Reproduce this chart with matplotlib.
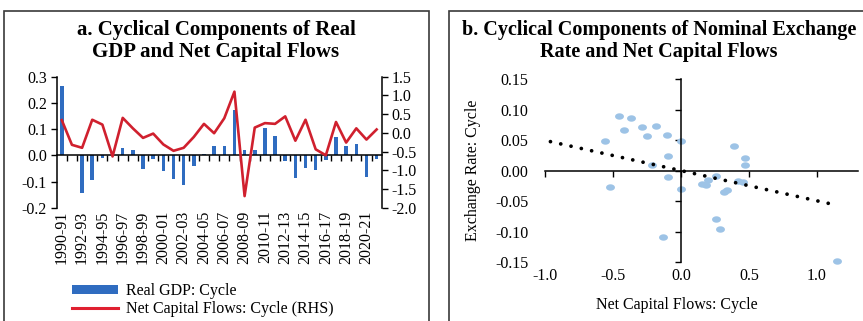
import numpy as np
import matplotlib
matplotlib.use("Agg")
import matplotlib.pyplot as plt
from matplotlib.patches import Rectangle
from matplotlib.path import Path
from matplotlib.lines import Line2D
from matplotlib.patches import Patch

plt.rcParams['font.family'] = ['Liberation Serif', 'DejaVu Serif']
plt.rcParams['axes.unicode_minus'] = False

# ---------------- data ----------------
periods = ["1990-91", "1991-92", "1992-93", "1993-94", "1994-95", "1995-96", "1996-97", "1997-98",
           "1998-99", "1999-00", "2000-01", "2001-02", "2002-03", "2003-04", "2004-05", "2005-06",
           "2006-07", "2007-08", "2008-09", "2009-10", "2010-11", "2011-12", "2012-13", "2013-14",
           "2014-15", "2015-16", "2016-17", "2017-18", "2018-19", "2019-20", "2020-21", "2021-22"]
real_gdp_cycle = [0.266, 0.001, -0.142, -0.093, -0.011, 0.0, 0.029, 0.021,
                  -0.053, -0.016, -0.059, -0.092, -0.114, -0.039, 0.004, 0.034,
                  0.034, 0.171, 0.019, 0.020, 0.105, 0.075, -0.023, -0.087,
                  -0.048, -0.056, -0.019, 0.069, 0.034, 0.044, -0.082, -0.014]
net_cap_flows_cycle = [0.34, -0.32, -0.40, 0.35, 0.22, -0.63, 0.40, 0.12,
                       -0.135, -0.02, -0.31, -0.48, -0.40, -0.11, 0.24, -0.01,
                       0.39, 1.10, -1.69, 0.14, 0.26, 0.24, 0.44, -0.21,
                       0.35, -0.44, -0.60, 0.29, -0.26, 0.12, -0.18, 0.09]
left_ticks = [-0.2, -0.1, 0.0, 0.1, 0.2, 0.3]
right_ticks = [-2.0, -1.5, -1.0, -0.5, 0.0, 0.5, 1.0, 1.5]

scatter_ncf = [-0.561, -0.456, -0.368, -0.417, -0.287, -0.184, -0.252, -0.103, 0.0, -0.093,
               -0.211, -0.096, 0.0, -0.525, 0.390, 0.468, 0.471, 0.257, 0.196, 0.157,
               0.181, 0.419, 0.458, 0.316, 0.338, 0.260, 0.284, -0.130, 1.147]
scatter_er = [0.049, 0.090, 0.087, 0.067, 0.071, 0.073, 0.057, 0.058, 0.049, 0.024,
              0.010, -0.0098, -0.030, -0.027, 0.041, 0.021, 0.0093, -0.0082, -0.0153, -0.0224,
              -0.024, -0.017, -0.019, -0.035, -0.032, -0.079, -0.095, -0.109, -0.148]
# linear trend as shown in the chart
trend_range = [-0.96, 1.15]
trend_slope = -0.0495
trend_intercept = 0.0003
b_xticks = [-1.0, -0.5, 0.0, 0.5, 1.0]
b_yticks = [-0.15, -0.10, -0.05, 0.0, 0.05, 0.10, 0.15]

# ---------------- figure ----------------
W, H = 863, 321
fig = plt.figure(figsize=(W / 100, H / 100), dpi=100)

def fx(px):
    return px / W

def fy(py):
    return 1 - py / H

# panel boxes
box_col = '#3a3a3a'
fig.add_artist(Rectangle((fx(4), -0.1), fx(425), fy(11) + 0.1, transform=fig.transFigure,
                         fill=False, edgecolor=box_col, linewidth=1.2))
fig.add_artist(Rectangle((fx(449), -0.1), fx(440), fy(11) + 0.1, transform=fig.transFigure,
                         fill=False, edgecolor=box_col, linewidth=1.2))

# titles
fig.text(fx(216), fy(41), "a. Cyclical Components of Real\nGDP and Net Capital Flows",
         ha='center', va='center', fontsize=15, fontweight='bold', linespacing=1.15)
fig.text(fx(659), fy(41), "b. Cyclical Components of Nominal Exchange\nRate and Net Capital Flows",
         ha='center', va='center', fontsize=14.5, fontweight='bold', linespacing=1.19)

tick_fs = 11.5
bar_col = '#2f6cc0'
red_col = '#d0202e'

# ---------------- panel a ----------------
axa = fig.add_axes([fx(56.7), fy(207.7), fx(381.7 - 56.7), fy(76.7) - fy(207.7)])
idx = np.arange(len(periods))
axa.bar(idx, real_gdp_cycle, width=0.35, color=bar_col, zorder=2)
axa.set_xlim(-0.5, len(periods) - 0.5)
axa.set_ylim(left_ticks[0], left_ticks[-1])
axa.set_yticks(left_ticks)
axa.set_yticklabels([f"{v:.1f}" for v in left_ticks])
axa.tick_params(axis='y', direction='out', length=4, width=1, labelsize=tick_fs, pad=3)
axa.spines['top'].set_visible(False)
axa.spines['right'].set_visible(False)
axa.spines['bottom'].set_position(('data', 0))
axa.set_xticks(idx[:-1] + 0.5)
axa.set_xticklabels([])
axa.tick_params(axis='x', direction='out', length=4, width=1)
for s in ['left', 'bottom']:
    axa.spines[s].set_linewidth(1.1)
secx = axa.secondary_xaxis('bottom')
secx.set_xticks(idx[::2])
secx.set_xticklabels(periods[::2], rotation=90, fontsize=tick_fs)
secx.tick_params(length=0, pad=2)
secx.spines['bottom'].set_visible(False)

axa2 = axa.twinx()
axa2.plot(idx, net_cap_flows_cycle, color=red_col, linewidth=1.9, zorder=3)
axa2.set_ylim(right_ticks[0], right_ticks[-1])
axa2.set_yticks(right_ticks)
axa2.set_yticklabels([f"{v:.1f}" for v in right_ticks])
axa2.tick_params(axis='y', direction='out', length=4, width=1, labelsize=tick_fs, pad=3)
for s in ['top', 'left', 'bottom']:
    axa2.spines[s].set_visible(False)
axa2.spines['right'].set_linewidth(1.1)

handles = [Patch(facecolor=bar_col, edgecolor='none'),
           Line2D([], [], color='#e02030', linewidth=2.2)]
fig.legend(handles, ["Real GDP: Cycle", "Net Capital Flows: Cycle (RHS)"],
           loc='upper left', bbox_to_anchor=(fx(72), fy(283)), frameon=False,
           fontsize=tick_fs, handlelength=2.9, handleheight=0.45, labelspacing=0.1,
           handletextpad=0.45, borderpad=0, borderaxespad=0)

# ---------------- panel b ----------------
axb = fig.add_axes([fx(545), fy(262.3), fx(857.8 - 545), fy(79.3) - fy(262.3)])
t = np.linspace(0, 2 * np.pi, 60)
ell = Path(np.column_stack([np.cos(t), 0.72 * np.sin(t)]), closed=True)
axb.plot(scatter_ncf, scatter_er, linestyle='none', marker=ell, markersize=6.4,
         markerfacecolor='#9dc3e6', markeredgecolor='none', zorder=2, clip_on=False)
tx = np.array(trend_range)
axb.plot(tx, trend_intercept + trend_slope * tx, color='black', linewidth=2.7,
         linestyle=(0, (0.01, 2.8)), dash_capstyle='round', zorder=3)
axb.set_xlim(-1.0, 1.3)
axb.set_ylim(-0.15, 0.15)
for s in ['top', 'right']:
    axb.spines[s].set_visible(False)
axb.spines['left'].set_position(('data', 0))
axb.spines['bottom'].set_position(('data', 0))
axb.spines['left'].set_linewidth(1.1)
axb.spines['bottom'].set_linewidth(1.1)
axb.set_xticks(b_xticks)
axb.set_xticklabels([])
axb.set_yticks(b_yticks)
axb.set_yticklabels([])
axb.tick_params(axis='both', direction='out', length=4, width=1)
sx = axb.secondary_xaxis('bottom')
sx.set_xticks(b_xticks)
sx.set_xticklabels([f"{v:.1f}" for v in b_xticks], fontsize=tick_fs)
sx.tick_params(length=0, pad=4)
sx.spines['bottom'].set_visible(False)
sy = axb.secondary_yaxis('left')
sy.set_yticks(b_yticks)
sy.set_yticklabels([f"{v:.2f}" for v in b_yticks], fontsize=tick_fs)
sy.tick_params(length=0, pad=12)
sy.spines['left'].set_visible(False)
fig.text(fx(473), fy(170), "Exchange Rate: Cycle", rotation=90, ha='center', va='center',
         fontsize=tick_fs)
fig.text(fx(677), fy(305), "Net Capital Flows: Cycle", ha='center', va='center',
         fontsize=tick_fs)

fig.savefig("out.png", dpi=100)
